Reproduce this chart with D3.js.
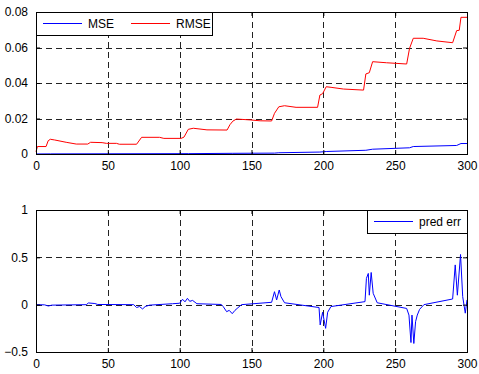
<!DOCTYPE html>
<html>
<head>
<meta charset="utf-8">
<script src="https://cdn.jsdelivr.net/npm/d3@7"></script>
<style>
    body { margin: 0; background: #fff; }
    svg { display: block; }
    text { font-family: Arial, "Liberation Sans", sans-serif; }
</style>
</head>
<body>
<div id="chart"></div>
<script>
// sample index / value pairs
const rmseX = [0, 1, 7, 8.5, 10, 13, 21, 28, 36, 38, 46, 49, 56, 58, 70, 73.5, 86, 89, 101, 103, 106, 109.5, 119, 133,
    135, 137, 139.5, 149, 156, 164, 166, 169, 173, 181, 196, 197.6, 199.5, 202, 206, 214, 228, 229.6, 232, 234.3, 244,
    258, 260, 262.6, 269.5, 279, 290, 292.8, 294.6, 295.8, 300];
const rmseY = [0.0013, 0.0042, 0.0042, 0.0075, 0.0083, 0.0079, 0.0066, 0.0056, 0.0056, 0.0066, 0.0064, 0.006, 0.006,
    0.0055, 0.0055, 0.0094, 0.0094, 0.0088, 0.0088, 0.0095, 0.0139, 0.0145, 0.0136, 0.0135, 0.0165, 0.0185, 0.0197,
    0.0192, 0.0187, 0.0186, 0.0229, 0.0266, 0.0272, 0.0263, 0.0263, 0.0332, 0.034, 0.0379, 0.0375, 0.0366, 0.036,
    0.0451, 0.0458, 0.052, 0.0514, 0.0507, 0.0595, 0.0652, 0.0652, 0.0637, 0.0627, 0.0695, 0.0697, 0.077, 0.077];

const mseX = [0, 10, 106, 137, 166, 169, 197.6, 202, 229.6, 234.3, 260, 262.6, 292.8, 295.8, 300];
const mseY = [0.00002, 0.00007, 0.0002, 0.00038, 0.0005, 0.0007, 0.0011, 0.0014, 0.0021, 0.0027, 0.0035, 0.0042,
    0.0048, 0.0059, 0.0059];

const errX = [0, 6, 8.6, 11, 35, 36.5, 41, 43, 68, 70, 72, 74.2, 76, 79, 95, 100, 102, 103.7, 105.4, 107, 109, 112, 129,
    130.3, 132.7, 134.5, 136.6, 138.5, 140, 143, 164, 166, 167.5, 169.3, 170.5, 173, 197, 197.8, 199.5, 201.6, 203,
    205.3, 229, 230, 231.3, 232, 233.3, 234.7, 237.5, 258, 259.6, 261, 261.7, 263, 264.2, 265.4, 267, 270, 290, 291.8,
    293.3, 295.5, 297, 298.8, 300];
const errY = [0, -0.002, -0.014, -0.005, 0, 0.018, 0.012, 0.002, 0, -0.03, -0.02, -0.045, -0.02, -0.005, 0.01, 0.015,
    0.057, 0.03, 0.067, 0.035, 0.045, 0.01, 0.002, -0.02, -0.074, -0.06, -0.095, -0.06, -0.04, 0, 0.025, 0.137, 0.05,
    0.155, 0.085, 0.02, -0.03, -0.214, -0.08, -0.25, -0.08, -0.02, 0.032, 0.278, 0.33, 0.1, 0.34, 0.12, 0.02, -0.04,
    -0.11, -0.4, -0.11, -0.41, -0.18, -0.11, -0.05, 0, 0.06, 0.42, 0.1, 0.53, 0.085, -0.09, 0.05];

const xTicks = [0, 50, 100, 150, 200, 250, 300];
const topTicks = [0, 0.02, 0.04, 0.06, 0.08];
const bottomTicks = [-0.5, 0, 0.5, 1];

const width = 479, height = 374;

const svg = d3.select('#chart').append('svg')
    .attr('width', width)
    .attr('height', height);

svg.append('rect').attr('width', width).attr('height', height).attr('fill', '#fff');

function drawPanel(opts) {
    const x = d3.scaleLinear().domain([0, 300]).range([opts.left, opts.right]);
    const y = d3.scaleLinear().domain(opts.yDomain).range([opts.bottom, opts.top]);
    const g = svg.append('g');

    // dashed grid
    g.selectAll('.vgrid')
        .data(xTicks.slice(1, -1))
        .enter().append('line')
        .attr('x1', d => Math.round(x(d)) + 0.5).attr('x2', d => Math.round(x(d)) + 0.5)
        .attr('y1', opts.top).attr('y2', opts.bottom)
        .attr('stroke', '#222').attr('stroke-dasharray', '6,4');

    g.selectAll('.hgrid')
        .data(opts.yTicks.filter(d => d !== opts.yDomain[0] && d !== opts.yDomain[1]))
        .enter().append('line')
        .attr('x1', opts.left).attr('x2', opts.right)
        .attr('y1', d => Math.round(y(d)) + 0.5).attr('y2', d => Math.round(y(d)) + 0.5)
        .attr('stroke', '#222').attr('stroke-dasharray', '6,4');

    // series
    const line = d3.line().x(d => x(d[0])).y(d => y(d[1]));
    opts.series.forEach(s => {
        g.append('path')
            .datum(d3.zip(s.x, s.y))
            .attr('d', line)
            .attr('fill', 'none')
            .attr('stroke', s.color)
            .attr('stroke-width', 1);
    });

    // axes, MATLAB style ticks inside
    const styleAxis = sel => {
        sel.select('.domain').remove();
        sel.selectAll('.tick line').attr('stroke', '#000');
        sel.selectAll('text').attr('font-size', 12).attr('fill', '#000');
    };

    g.append('g')
        .attr('transform', `translate(0,${opts.bottom})`)
        .call(d3.axisBottom(x).tickValues(xTicks).tickSizeInner(-4).tickSizeOuter(0).tickPadding(7))
        .call(styleAxis);
    g.append('g')
        .attr('transform', `translate(0,${opts.top})`)
        .call(d3.axisTop(x).tickValues(xTicks).tickFormat('').tickSizeInner(-4).tickSizeOuter(0))
        .call(styleAxis);
    g.append('g')
        .attr('transform', `translate(${opts.left},0)`)
        .call(d3.axisLeft(y).tickValues(opts.yTicks).tickFormat(d => d3.format('')(+d.toFixed(2))).tickSizeInner(-4).tickSizeOuter(0).tickPadding(8))
        .call(styleAxis);
    g.append('g')
        .attr('transform', `translate(${opts.right},0)`)
        .call(d3.axisRight(y).tickValues(opts.yTicks).tickFormat('').tickSizeInner(-4).tickSizeOuter(0))
        .call(styleAxis);

    g.append('rect')
        .attr('x', opts.left + 0.5).attr('y', opts.top + 0.5)
        .attr('width', opts.right - opts.left).attr('height', opts.bottom - opts.top)
        .attr('fill', 'none').attr('stroke', '#000');

    // legend
    const lg = g.append('g').attr('transform', `translate(${opts.legend.x},${opts.top})`);
    lg.append('rect')
        .attr('x', 0.5).attr('y', 0.5)
        .attr('width', opts.legend.w).attr('height', 23)
        .attr('fill', '#fff').attr('stroke', '#000');
    let cx = 7;
    opts.series.filter(s => s.label).forEach(s => {
        lg.append('line')
            .attr('x1', cx).attr('x2', cx + 39)
            .attr('y1', 11.5).attr('y2', 11.5)
            .attr('stroke', s.color);
        const t = lg.append('text')
            .attr('x', cx + 45).attr('y', 16)
            .attr('font-size', 12)
            .text(s.label);
        cx += 45 + t.node().getComputedTextLength() + 17;
    });
}

drawPanel({
    left: 36, right: 467, top: 12, bottom: 154,
    yDomain: [0, 0.08], yTicks: topTicks,
    legend: { x: 36, w: 176 },
    series: [
        { x: mseX, y: mseY, color: '#0000ff', label: 'MSE' },
        { x: rmseX, y: rmseY, color: '#ff0000', label: 'RMSE' }
    ]
});

drawPanel({
    left: 36, right: 467, top: 210, bottom: 352,
    yDomain: [-0.5, 1], yTicks: bottomTicks,
    legend: { x: 367, w: 100 },
    series: [
        { x: errX, y: errY, color: '#0000ff', label: 'pred err' }
    ]
});
</script>
</body>
</html>
